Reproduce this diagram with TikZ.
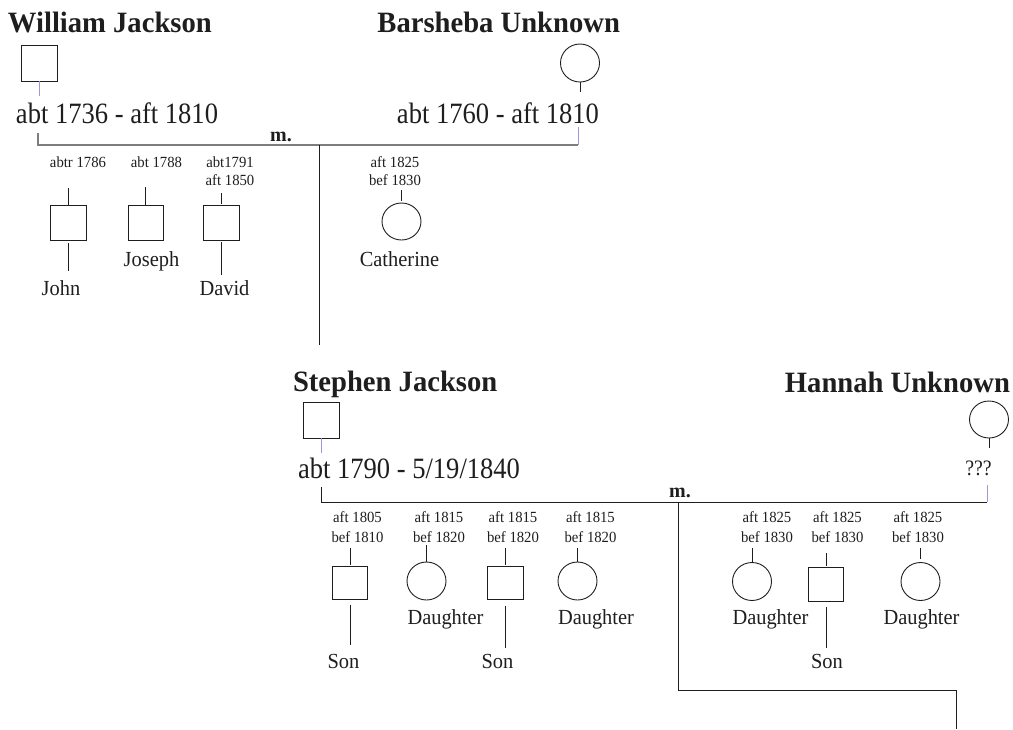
\documentclass[tikz,border=0pt]{standalone}
\usepackage{fontspec}
\setmainfont{Liberation Serif}
\newfontfamily\namefont[FakeStretch=0.97]{Liberation Serif}
\newfontfamily\datefont[FakeStretch=0.9]{Liberation Serif}
\newfontfamily\kidfont[FakeStretch=0.95]{Liberation Serif}
\usetikzlibrary{shapes.geometric}
\definecolor{ink}{RGB}{30,30,30}
\definecolor{lilac}{RGB}{160,150,215}
\definecolor{mgray}{RGB}{125,125,125}
\begin{document}
\begin{tikzpicture}[x=1pt,y=-1pt,
  every node/.style={inner sep=0pt, outer sep=0pt},
  pname/.style={text=ink, font=\namefont\bfseries\fontsize{29.5}{32}\selectfont},
  pdate/.style={text=ink, font=\datefont\fontsize{29.5}{32}\selectfont},
  qmark/.style={text=ink, font=\datefont\fontsize{22}{24}\selectfont},
  mlabel/.style={text=ink, font=\bfseries\fontsize{20}{22}\selectfont},
  kdate/.style={text=ink, align=center, anchor=north, font=\kidfont\fontsize{15.5}{18}\selectfont},
  kdatelow/.style={text=ink, align=center, anchor=north, font=\kidfont\fontsize{15.5}{19.5}\selectfont},
  kname/.style={text=ink, anchor=base, font=\kidfont\fontsize{21.5}{24}\selectfont},
  male/.style={draw=ink, line width=0.9pt, rectangle, minimum width=35.5pt, minimum height=35pt},
  female/.style={draw=ink, line width=0.9pt, ellipse, minimum width=39pt, minimum height=38pt},
  stub/.style={draw=ink, line width=0.8pt},
  plink/.style={draw=lilac, line width=0.9pt},
  marr1/.style={draw=mgray, line width=1.6pt},
  marr2/.style={draw=ink, line width=1pt}]
\useasboundingbox (0,0) rectangle (1013,729);

% ---------- first couple ----------
\node[pname, anchor=base west] (wname) at (8,32) {William Jackson};
\node[male, minimum height=36pt] (wsq) at (39.5,63) {};
\node[pdate, anchor=base west] (wdate) at (16,123) {abt 1736 - aft 1810};
\node[pname, anchor=base east] (bname) at (620,32) {Barsheba Unknown};
\node[female] (bcirc) at (580,63) {};
\node[pdate, anchor=base east] (bdate) at (599,123) {abt 1760 - aft 1810};
\node[mlabel, anchor=base] (m1) at (281,141) {m.};
\coordinate (m1L) at (38,145);
\coordinate (m1R) at (578,145);
\coordinate (m1D) at (319,145);
\coordinate (m1E) at (319,345);

\draw[plink, shorten >=6pt] (wsq.south) -- (wsq.south |- wdate.north);
\draw[stub, shorten >=10pt] (bcirc.south) -- (bcirc.south |- bdate.north);
\draw[marr1, shorten <=10pt] (m1L |- wdate.south) -- (m1L) -- (m1R);
\draw[plink, shorten >=4pt] (m1R) -- (m1R |- bdate.south);
\draw[stub] (m1D) -- (m1E);

% ---------- children of first couple ----------
\node[kdate] (jdate) at (78,157) {abtr 1786};
\node[male, minimum height=34.5pt] (jsq) at (68.25,223) {};
\node[kname] (jname) at (61,295) {John};
\draw[stub, shorten >=20pt] (jsq.north) -- (jsq.north |- jdate.south);
\draw[stub, shorten <=3pt, shorten >=9pt] (jsq.south) -- (jsq.south |- jname.north);

\node[kdate] (osdate) at (156.5,157) {abt 1788};
\node[male, minimum height=34.5pt] (ossq) at (145.75,223) {};
\node[kname] (osname) at (151.5,266) {Joseph};
\draw[stub, shorten >=19pt] (ossq.north) -- (ossq.north |- osdate.south);

\node[kdate] (ddate) at (230,157) {abt1791\\aft 1850};
\node[male, minimum height=34.5pt] (dsq) at (221.5,223) {};
\node[kname] (dname) at (224.5,295) {David};
\draw[stub, shorten <=2pt, shorten >=7pt] (dsq.north) -- (dsq.north |- ddate.south);
\draw[stub, shorten <=2pt, shorten >=5pt] (dsq.south) -- (dsq.south |- dname.north);

\node[kdate] (cdate) at (395,157) {aft 1825\\bef 1830};
\node[female, minimum height=37pt] (ccirc) at (401.5,221.5) {};
\node[kname] (cname) at (399.5,266) {Catherine};
\draw[stub, shorten <=2pt, shorten >=4pt] (ccirc.north) -- (ccirc.north |- cdate.south);

% ---------- second couple ----------
\node[pname, anchor=base west] (sname) at (293,391) {Stephen Jackson};
\node[male, minimum height=36pt] (ssq) at (321.5,420) {};
\node[pdate, anchor=base west] (sdate) at (298,478) {abt 1790 - 5/19/1840};
\node[pname, anchor=base east] (hname) at (1010,392) {Hannah Unknown};
\node[female, minimum height=37pt] (hcirc) at (989,419.5) {};
\node[qmark, anchor=base] (hq) at (978.5,475) {???};
\node[mlabel, anchor=base] (m2) at (680,497) {m.};
\coordinate (m2L) at (321,502);
\coordinate (m2R) at (987,502);
\coordinate (m2D) at (678,502);
\coordinate (m2C) at (678,690);
\coordinate (m2E) at (956,690);
\coordinate (m2F) at (956,729);

\draw[plink, shorten >=5pt] (ssq.south) -- (ssq.south |- sdate.north);
\draw[stub, shorten >=12pt] (hcirc.south) -- (hcirc.south |- hq.north);
\draw[marr2, shorten <=9pt] (m2L |- sdate.south) -- (m2L) -- (m2R);
\draw[plink, shorten >=10pt] (m2R) -- (m2R |- hq.south);
\draw[stub] (m2D) -- (m2C) -- (m2E) -- (m2F);

% ---------- children of second couple ----------
\node[kdatelow] (s1date) at (357.5,512) {aft 1805\\bef 1810};
\node[male, minimum height=33pt] (s1sq) at (350,583) {};
\node[kname] (s1name) at (343.5,668) {Son};
\draw[stub, shorten <=2pt, shorten >=5pt] (s1sq.north) -- (s1sq.north |- s1date.south);
\draw[stub, shorten <=5pt, shorten >=9pt] (s1sq.south) -- (s1sq.south |- s1name.north);

\node[kdatelow] (d1date) at (439,512) {aft 1815\\bef 1820};
\node[female] (d1circ) at (426.5,581) {};
\node[kname] (d1name) at (445.5,624) {Daughter};
\draw[stub, shorten >=2pt] (d1circ.north) -- (d1circ.north |- d1date.south);

\node[kdatelow] (s2date) at (513,512) {aft 1815\\bef 1820};
\node[male, minimum height=33pt] (s2sq) at (505.5,583) {};
\node[kname] (s2name) at (497.5,668) {Son};
\draw[stub, shorten <=2pt, shorten >=5pt] (s2sq.north) -- (s2sq.north |- s2date.south);
\draw[stub, shorten <=6pt, shorten >=6pt] (s2sq.south) -- (s2sq.south |- s2name.north);

\node[kdatelow] (d2date) at (590.5,512) {aft 1815\\bef 1820};
\node[female] (d2circ) at (577.5,581) {};
\node[kname] (d2name) at (596,624) {Daughter};
\draw[stub, shorten >=5pt] (d2circ.north) -- (d2circ.north |- d2date.south);

\node[kdatelow] (d3date) at (767,512) {aft 1825\\bef 1830};
\node[female] (d3circ) at (752,581.5) {};
\node[kname] (d3name) at (770.5,624) {Daughter};
\draw[stub, shorten >=5pt] (d3circ.north) -- (d3circ.north |- d3date.south);

\node[kdatelow] (s3date) at (837.5,512) {aft 1825\\bef 1830};
\node[male, minimum height=34pt] (s3sq) at (826,584) {};
\node[kname] (s3name) at (827,668) {Son};
\draw[stub, shorten <=1pt, shorten >=10pt] (s3sq.north) -- (s3sq.north |- s3date.south);
\draw[stub, shorten <=6pt, shorten >=6pt] (s3sq.south) -- (s3sq.south |- s3name.north);

\node[kdatelow] (d4date) at (918,512) {aft 1825\\bef 1830};
\node[female] (d4circ) at (920.5,581.5) {};
\node[kname] (d4name) at (921.5,624) {Daughter};
\draw[stub, shorten <=4pt, shorten >=5pt] (d4circ.north) -- (d4circ.north |- d4date.south);
\end{tikzpicture}
\end{document}
